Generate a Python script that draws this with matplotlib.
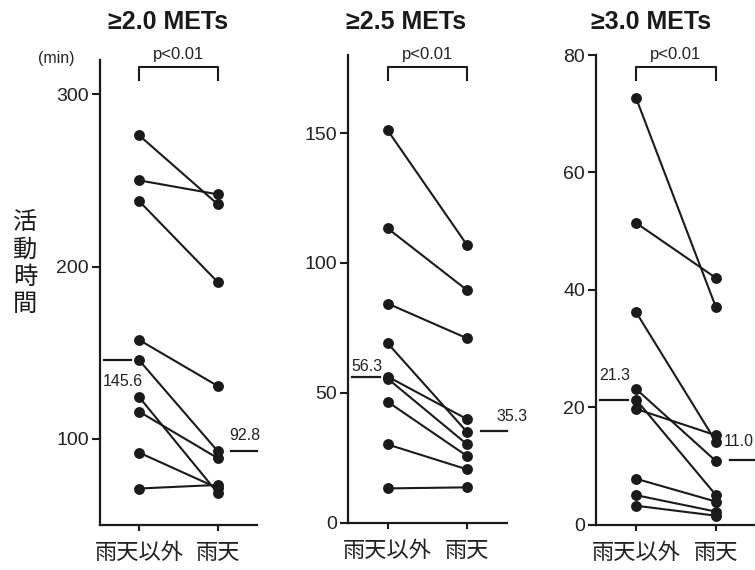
import matplotlib.pyplot as plt
from matplotlib.transforms import blended_transform_factory

plt.rcParams['font.family'] = ['Liberation Sans', 'Noto Sans CJK JP', 'DejaVu Sans']

categories = ['雨天以外', '雨天']
titles = ['≥2.0 METs', '≥2.5 METs', '≥3.0 METs']
p_text = 'p<0.01'

# minutes per subject, dry days vs rainy days (paired)
met20_dry = [276.2, 250.1, 238.0, 157.4, 145.6, 124.2, 115.8, 92.0, 71.2]
met20_rain = [236.2, 242.0, 191.0, 130.7, 92.8, 68.5, 88.8, 71.4, 73.3]
met25_dry = [151.0, 113.3, 84.4, 69.1, 56.3, 55.5, 46.6, 30.2, 13.3]
met25_rain = [106.8, 89.5, 71.0, 34.9, 39.9, 30.2, 25.7, 20.6, 13.7]
met30_dry = [72.7, 51.4, 36.2, 23.1, 21.3, 19.7, 7.8, 5.0, 3.2]
met30_rain = [37.0, 42.0, 14.1, 10.8, 5.0, 15.2, 3.9, 2.2, 1.5]

median_dry = [145.6, 56.3, 21.3]
median_rain = [92.8, 35.3, 11.0]

yticks = [[100, 200, 300], [0, 50, 100, 150], [0, 20, 40, 60, 80]]
ylims = [(50, 320), (0, 180), (0, 80)]

dry = [met20_dry, met25_dry, met30_dry]
rain = [met20_rain, met25_rain, met30_rain]

# layout (figure fractions)
positions = [[0.1325, 0.0789, 0.208, 0.8158],
             [0.4609, 0.0825, 0.2106, 0.821],
             [0.7894, 0.0798, 0.2119, 0.8237]]
title_x = [0.2225, 0.538, 0.862]
# median label placement: (x, dy in pt, ha)
lab_dry = [(-0.21, -15, 'center'), (-0.26, 7, 'center'), (-0.26, 17, 'center')]
lab_rain = [(1.35, 11.5, 'center'), (1.56, 10.6, 'center'), (1.10, 13.5, 'left')]

ink = '#1a1a1a'
txt = '#222222'

fig = plt.figure(figsize=(7.55, 5.70), dpi=100)

for i in range(3):
    ax = fig.add_axes(positions[i])
    for a, b in zip(dry[i], rain[i]):
        ax.plot([0, 1], [a, b], color=ink, lw=1.5, marker='o', ms=6.8,
                clip_on=False, zorder=3)

    # median bars
    ax.plot([-0.45, -0.1], [median_dry[i]] * 2, color=ink, lw=1.6, clip_on=False)
    ax.plot([1.17, 1.5], [median_rain[i]] * 2, color=ink, lw=1.6, clip_on=False)
    x, dy, ha = lab_dry[i]
    ax.annotate('%.1f' % median_dry[i], xy=(x, median_dry[i]), xytext=(0, dy),
                textcoords='offset points', ha=ha, va='center', fontsize=11.5,
                color=txt, annotation_clip=False)
    x, dy, ha = lab_rain[i]
    ax.annotate('%.1f' % median_rain[i], xy=(x, median_rain[i]), xytext=(0, dy),
                textcoords='offset points', ha=ha, va='center', fontsize=11.5,
                color=txt, annotation_clip=False)

    ax.set_xlim(-0.5, 1.5)
    ax.set_ylim(*ylims[i])
    ax.set_yticks(yticks[i])
    ax.set_xticks([0, 1])
    ax.set_xticklabels(categories, fontsize=16, color=txt)
    ax.tick_params(axis='y', labelsize=14, length=6, width=1.5, pad=2,
                   colors=ink, labelcolor=txt)
    ax.tick_params(axis='x', length=4, width=1.5, pad=9, colors=ink,
                   labelcolor=txt)
    for s in ['top', 'right']:
        ax.spines[s].set_visible(False)
    for s in ['left', 'bottom']:
        ax.spines[s].set_linewidth(1.6)
        ax.spines[s].set_color(ink)

    # significance bracket
    tr = blended_transform_factory(ax.transData, fig.transFigure)
    ax.plot([0, 0, 1, 1], [0.860, 0.883, 0.883, 0.860], color=ink, lw=1.5,
            transform=tr, clip_on=False)
    ax.text(0.5, 0.904, p_text, transform=tr, ha='center', va='center',
            fontsize=12, color=txt)

    fig.text(title_x[i], 0.961, titles[i], ha='center', va='center',
             fontsize=18, fontweight='bold', color=ink)

fig.text(0.075, 0.898, '(min)', ha='center', va='center', fontsize=11.5, color=txt)
fig.text(0.033, 0.537, '活\n動\n時\n間', ha='center', va='center',
         fontsize=17.5, linespacing=1.28, color=ink)

fig.savefig('out.png', dpi=100)
